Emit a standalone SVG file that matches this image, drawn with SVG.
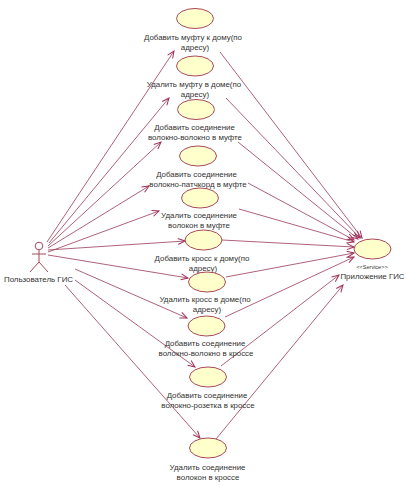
<svg xmlns="http://www.w3.org/2000/svg" width="419" height="490" viewBox="0 0 419 490">
<style>
text{font-family:"Liberation Sans",Arial,sans-serif;font-size:7.900px;fill:#333;text-anchor:middle}
.u{fill:#ffffcb;stroke:#a8485a;stroke-width:1}
.c line{stroke:#a5506a;stroke-width:.9;fill:none}
.a line{marker-end:url(#h)}
.ac{stroke:#a8485a;stroke-width:1;fill:none}
</style>
<defs><marker id="h" markerUnits="userSpaceOnUse" markerWidth="9" markerHeight="8" refX="8" refY="4" orient="auto"><path d="M1 1L8 4L1 7" fill="none" stroke="#a0305a" stroke-width="1"/></marker></defs>
<rect width="419" height="490" fill="#fff"/>
<g id="connectors" class="c">
<g class="a">
<line x1="47" y1="242" x2="174" y2="51"/>
<line x1="49" y1="243" x2="169" y2="98"/>
<line x1="48" y1="246" x2="161" y2="142"/>
<line x1="48" y1="248" x2="149" y2="186"/>
<line x1="48" y1="252" x2="159" y2="211"/>
<line x1="48" y1="250" x2="185" y2="241"/>
<line x1="48" y1="255" x2="188" y2="278"/>
<line x1="75" y1="269" x2="187" y2="318"/>
<line x1="75" y1="280" x2="195" y2="367"/>
<line x1="65" y1="285" x2="200" y2="438"/>
<line x1="220" y1="52" x2="362" y2="238"/>
<line x1="226" y1="98" x2="360" y2="238"/>
<line x1="238" y1="142" x2="358" y2="239"/>
<line x1="248" y1="183" x2="354" y2="240"/>
<line x1="239" y1="209" x2="354" y2="242"/>
<line x1="222" y1="240" x2="354" y2="247"/>
<line x1="226" y1="277" x2="354" y2="253"/>
<line x1="225" y1="317" x2="354" y2="257"/>
<line x1="221" y1="366" x2="339" y2="275"/>
<line x1="216" y1="439" x2="343" y2="285"/>
</g>
</g>
<g id="actor">
<circle class="ac" cx="39" cy="246" r="3.800"/>
<path class="ac" d="M39 250V262M32 254H46M39 262L30 272M39 262L48 272"/>
<text x="38.500" y="282">Пользователь ГИС</text>
</g>
<g id="uc1"><ellipse class="u" cx="195" cy="18.500" rx="18.500" ry="10"/><text x="193" y="39.500">Добавить муфту к дому(по</text><text x="195" y="49.500">адресу)</text></g>
<g id="uc2"><ellipse class="u" cx="195" cy="66" rx="18.500" ry="10"/><text x="194" y="86.500">Удалить муфту в доме(по</text><text x="195" y="96.500">адресу)</text></g>
<g id="uc3"><ellipse class="u" cx="196" cy="109.500" rx="18.500" ry="10"/><text x="194.500" y="130">Добавить соединение</text><text x="195" y="140">волокно-волокно в муфте</text></g>
<g id="uc4"><ellipse class="u" cx="198" cy="156" rx="18.500" ry="10"/><text x="196.500" y="177">Добавить соединение</text><text x="198" y="187">волокно-патчкорд в муфте</text></g>
<g id="uc5"><ellipse class="u" cx="200" cy="198" rx="18.500" ry="10"/><text x="199" y="218">Удалить соединение</text><text x="199" y="228">волокон в муфте</text></g>
<g id="uc6"><ellipse class="u" cx="203.500" cy="240" rx="18.500" ry="10"/><text x="202" y="260.500">Добавить кросс к дому(по</text><text x="203" y="270.500">адресу)</text></g>
<g id="uc7"><ellipse class="u" cx="207" cy="282" rx="18.500" ry="10"/><text x="205" y="301.500">Удалить кросс в доме(по</text><text x="207" y="312">адресу)</text></g>
<g id="uc8"><ellipse class="u" cx="206.500" cy="326" rx="18.500" ry="10"/><text x="205" y="346">Добавить соединение</text><text x="206" y="356">волокно-волокно в кроссе</text></g>
<g id="uc9"><ellipse class="u" cx="208" cy="377" rx="18.500" ry="10"/><text x="207" y="398">Добавить соединение</text><text x="208" y="408">волокно-розетка в кроссе</text></g>
<g id="uc10"><ellipse class="u" cx="208" cy="448" rx="18.500" ry="10"/><text x="207.500" y="470">Удалить соединение</text><text x="208" y="479.500">волокон в кроссе</text></g>
<g id="service"><ellipse class="u" cx="372.500" cy="249" rx="18.500" ry="10"/><text x="372" y="269" style="font-size:5.500px">&lt;&lt;Service&gt;&gt;</text><text x="372.500" y="279">Приложение ГИС</text></g>
</svg>
